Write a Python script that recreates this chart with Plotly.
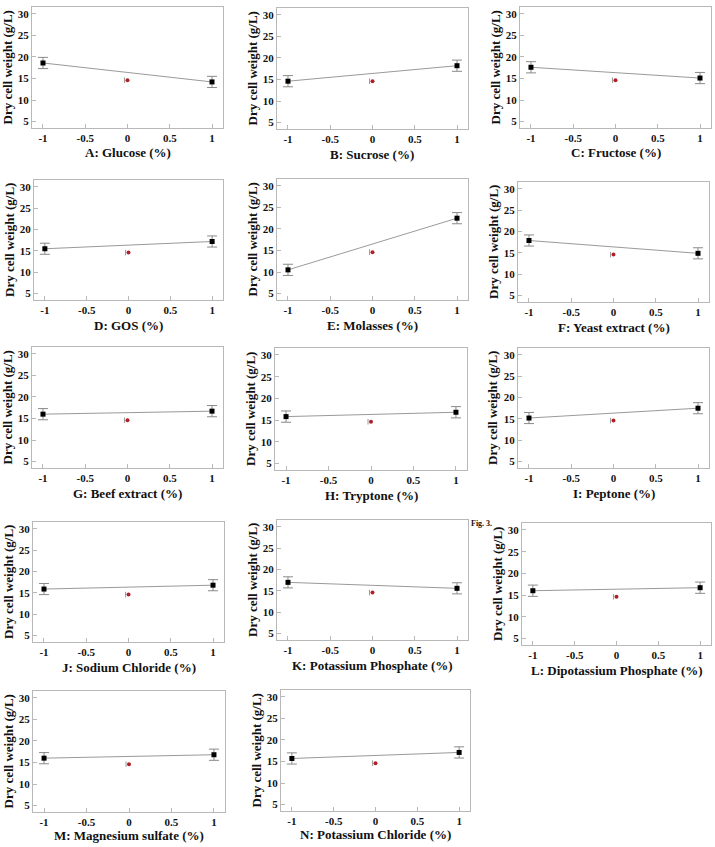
import plotly.graph_objects as go

W, H = 715, 847

factors = ["A: Glucose (%)", "B: Sucrose (%)", "C: Fructose (%)", "D: GOS (%)",
           "E: Molasses (%)", "F: Yeast extract (%)", "G: Beef extract (%)",
           "H: Tryptone (%)", "I: Peptone (%)", "J: Sodium Chloride (%)",
           "K: Potassium Phosphate (%)", "L: Dipotassium Phosphate (%)",
           "M: Magnesium sulfate (%)", "N: Potassium Chloride (%)"]
low_values = [18.6, 14.6, 17.6, 15.5, 10.5, 17.9, 16.0, 15.8, 15.2, 15.9, 17.0, 16.0, 16.0, 15.7]
high_values = [14.2, 18.2, 15.1, 17.2, 22.5, 14.9, 16.7, 16.8, 17.5, 16.8, 15.6, 16.7, 16.8, 17.1]
error_values = [1.3, 1.3, 1.3, 1.3, 1.3, 1.3, 1.3, 1.3, 1.3, 1.3, 1.3, 1.3, 1.3, 1.3]
levels = [-1, 1]
center_x = [0]
center_y = [14.6]
center_bar_x = [-0.035]
x_ticks = [-1, -0.5, 0, 0.5, 1]
x_tick_labels = ["-1", "-0.5", "0", "0.5", "1"]
y_ticks = [5, 10, 15, 20, 25, 30]
y_title = "Dry cell weight (g/L)"

# panel boxes in pixels: left, right, top, bottom
boxes = [
    (32, 223, 7, 128), (277, 468, 8, 129), (520, 711, 7, 128),
    (34, 223, 180, 300), (277, 468, 179, 300), (518, 709, 182, 302),
    (32, 223, 347, 468), (275, 467, 348, 470), (518, 709, 348, 468),
    (33, 224, 522, 642), (277, 468, 520, 640), (522, 711, 523, 645),
    (33, 225, 691, 812), (281, 470, 690, 811),
]
title_offsets = [25] * 12 + [23, 23]

FONT = "Liberation Serif, DejaVu Serif, serif"
fig = go.Figure()
annotations = []
for i, (name, lo, hi, err, box) in enumerate(zip(factors, low_values, high_values, error_values, boxes)):
    n = "" if i == 0 else str(i + 1)
    xa, ya = "x" + n, "y" + n
    l, r, t, b = box
    fig.add_trace(go.Scatter(x=levels, y=[lo, hi], mode="lines",
                             line=dict(color="#9a9a9a", width=1),
                             xaxis=xa, yaxis=ya, showlegend=False, hoverinfo="skip"))
    fig.add_trace(go.Scatter(x=levels, y=[lo, hi], mode="markers",
                             marker=dict(symbol="square", size=5, color="black"),
                             error_y=dict(type="data", array=[err, err], color="#8a8a8a",
                                          thickness=1, width=5),
                             xaxis=xa, yaxis=ya, showlegend=False))
    fig.add_trace(go.Scatter(x=center_bar_x, y=center_y, mode="markers",
                             marker=dict(symbol="line-ns", size=4,
                                         line=dict(color="#9a9a9a", width=1)),
                             xaxis=xa, yaxis=ya, showlegend=False, hoverinfo="skip"))
    fig.add_trace(go.Scatter(x=center_x, y=center_y, mode="markers",
                             marker=dict(symbol="circle", size=4, color="#b0202a"),
                             xaxis=xa, yaxis=ya, showlegend=False))
    axis_common = dict(showline=True, linecolor="#b8b8b8", linewidth=1, mirror=True,
                       showgrid=False, zeroline=False, ticks="inside", ticklen=4,
                       tickcolor="#b8b8b8",
                       tickfont=dict(family=FONT, size=11, color="#111", weight="bold"))
    fig.layout["xaxis" + n] = dict(domain=[l / W, r / W], anchor=ya, range=[-1.13, 1.13],
                                   tickvals=x_ticks, ticktext=x_tick_labels, **axis_common)
    fig.layout["yaxis" + n] = dict(domain=[1 - b / H, 1 - t / H], anchor=xa, range=[3.5, 31.6],
                                   tickvals=y_ticks, **axis_common)
    annotations.append(dict(text="<b>" + name + "</b>", xref="paper", yref="paper",
                            x=(l + r) / 2 / W, y=1 - (b + title_offsets[i]) / H, showarrow=False,
                            font=dict(family=FONT, size=13, color="#111"),
                            xanchor="center", yanchor="middle"))
    annotations.append(dict(text="<b>" + y_title + "</b>", xref="paper", yref="paper",
                            x=(l - 25) / W, y=1 - (t + b) / 2 / H, showarrow=False, textangle=-90,
                            font=dict(family=FONT, size=13, color="#111"),
                            xanchor="center", yanchor="middle"))

annotations.append(dict(text="<b>Fig. 3.</b>", xref="paper", yref="paper",
                        x=481 / W, y=1 - 523 / H, showarrow=False,
                        font=dict(family=FONT, size=8, color="#111"),
                        xanchor="center", yanchor="middle"))

fig.update_layout(width=W, height=H, margin=dict(l=0, r=0, t=0, b=0),
                  paper_bgcolor="white", plot_bgcolor="white",
                  annotations=annotations, showlegend=False)
fig.write_html("out.html")
